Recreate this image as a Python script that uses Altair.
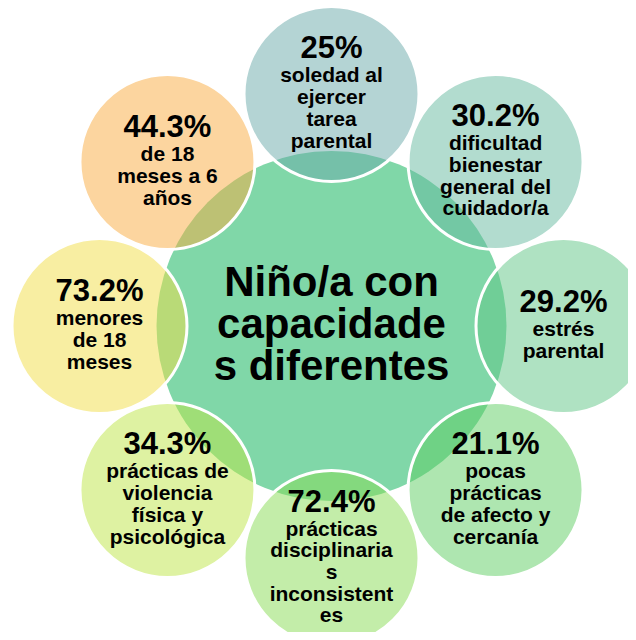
import altair as alt
import pandas as pd

# ---- data (clockwise from the top) ----
percents = ["25%", "30.2%", "29.2%", "21.1%", "72.4%", "34.3%", "73.2%", "44.3%"]
labels = [
    "soledad al\nejercer\ntarea\nparental",
    "dificultad\nbienestar\ngeneral del\ncuidador/a",
    "estrés\nparental",
    "pocas\nprácticas\nde afecto y\ncercanía",
    "prácticas\ndisciplinaria\ns\ninconsistent\nes",
    "prácticas de\nviolencia\nfísica y\npsicológica",
    "menores\nde 18\nmeses",
    "de 18\nmeses a 6\naños",
]
fills = ["#69A9A9", "#65B99F", "#5FC585", "#5DCD61",
         "#87DB53", "#BDE545", "#F1DD45", "#F9AB3F"]
center_label = "Niño/a con\ncapacidade\ns diferentes"
center_fill = "#80D7A8"

PX = 232.0  # pixels per unit of the ring radius

df = pd.DataFrame({
    "idx": list(range(len(percents))),
    "percent": percents,
    "label": labels,
    "fill": fills,
    "n": [len(l.split("\n")) for l in labels],
})
center_df = pd.DataFrame({"label": [center_label], "x": [0.0], "y": [0.0]})

xs = alt.Scale(domain=[-323.5 / PX, (620 - 323.5) / PX], nice=False, zero=False)
ys = alt.Scale(domain=[-(624 - 318) / PX, 318 / PX], nice=False, zero=False)

base = alt.Chart(df).transform_calculate(
    ang="(90 - 45 * datum.idx) * PI / 180",
    cx="cos(datum.ang)",
    cy="sin(datum.ang)",
    ypct=f"datum.cy - (9 - (24 + (datum.n - 1) * 21.7) / 2) / {PX}",
    ylab=f"datum.ypct - 24 / {PX}",
)

center_circle = alt.Chart(center_df).mark_circle(
    size=350 * 350, opacity=1, color=center_fill, clip=True
).encode(
    x=alt.X("x:Q", scale=xs, axis=None),
    y=alt.Y("y:Q", scale=ys, axis=None),
)

circles = base.mark_circle(
    size=175 * 175, fillOpacity=0.5, stroke="white", strokeWidth=3,
    strokeOpacity=1, clip=True
).encode(
    x=alt.X("cx:Q", scale=xs, axis=None),
    y=alt.Y("cy:Q", scale=ys, axis=None),
    fill=alt.Fill("fill:N", scale=None),
)

pct_text = base.mark_text(
    font="Liberation Sans", fontWeight="bold", fontSize=31,
    baseline="alphabetic", align="center", color="black", clip=True
).encode(
    x=alt.X("cx:Q", scale=xs, axis=None),
    y=alt.Y("ypct:Q", scale=ys, axis=None),
    text="percent:N",
)

lab_text = base.mark_text(
    font="Liberation Sans", fontWeight="bold", fontSize=21,
    baseline="alphabetic", align="center", color="black",
    lineBreak="\n", lineHeight=21.7, clip=True
).encode(
    x=alt.X("cx:Q", scale=xs, axis=None),
    y=alt.Y("ylab:Q", scale=ys, axis=None),
    text="label:N",
)

center_text = alt.Chart(center_df).transform_calculate(
    ty=f"30 / {PX}"
).mark_text(
    font="Liberation Sans", fontWeight="bold", fontSize=42,
    baseline="alphabetic", align="center", color="black",
    lineBreak="\n", lineHeight=42
).encode(
    x=alt.X("x:Q", scale=xs, axis=None),
    y=alt.Y("ty:Q", scale=ys, axis=None),
    text="label:N",
)

chart = alt.layer(
    center_circle, circles, pct_text, lab_text, center_text
).properties(
    width=620, height=624, padding=0, autosize=alt.AutoSizeParams(type="none")
).configure_view(strokeWidth=0)

chart.save("out.html", embed_options={"renderer": "svg", "actions": False})
